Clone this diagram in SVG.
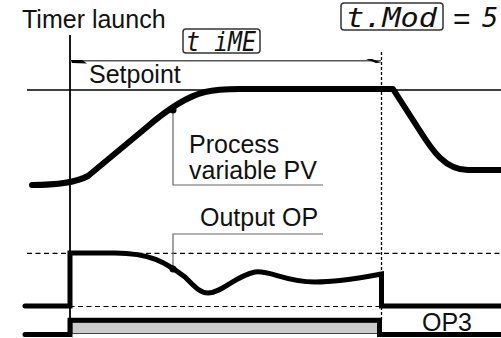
<svg xmlns="http://www.w3.org/2000/svg" width="501" height="338" viewBox="0 0 501 338">
<style>
.lbl{font-family:"Liberation Sans",Arial,sans-serif;font-size:25px;fill:#111}
.lcd{font-family:"DejaVu Sans Mono",monospace;font-style:oblique;fill:#111}
.thin{fill:none;stroke:#000;stroke-width:1.3}
.lead{fill:none;stroke:#666;stroke-width:1.2}
.dash{fill:none;stroke:#000;stroke-width:1.2;stroke-dasharray:5 3.5}
.vdash{fill:none;stroke:#000;stroke-width:1.3;stroke-dasharray:3 2}
.thick{fill:none;stroke:#000;stroke-width:5;stroke-linejoin:miter}
.pv{fill:none;stroke:#000;stroke-width:6;stroke-linecap:round;stroke-linejoin:round}
.box{fill:#fff;stroke:#333;stroke-width:1.5}
</style>
<g id="connectors">
  <path class="thin" d="M27,90 H501"/>
  <path class="dash" d="M27,253.3 H501"/>
  <path class="dash" d="M27,306.5 H501"/>
  <path class="vdash" d="M381.5,52 V320"/>
  <path d="M70,35 V320" fill="none" stroke="#000" stroke-width="1.8"/>
  <path d="M70,60.7 H381" fill="none" stroke="#555" stroke-width="1.4"/>
  <polygon points="71,60 82,60 87,63.5 72,63" fill="#000"/>
  <polygon points="366,59 372,59 381,62.5 376,63" fill="#000"/>
  <path class="lead" d="M173,112 V185 H323"/>
  <path class="lead" d="M173,269 V234 H323"/>
</g>
<g id="pv-curve">
  <path class="pv" d="M32,185 C55,185 75,183 88,176 L147,127 C162,114 185,97 205,92 C215,89.5 225,89 240,89 L393,89 L420,131 C432,150 445,170 468,170 L501,170"/>
  <circle cx="173" cy="110" r="3.5" fill="#000"/>
</g>
<g id="output-curve">
  <path class="thick" stroke-linecap="round" d="M25,306 H70 V253 H115 C150,253 165,262 185,277 C195,287 200,293 208,293 C222,293 235,276 255,272 C270,270 285,282 315,282 C340,282 365,277 381.5,274 V306 H503"/>
  <circle cx="173" cy="269" r="3.5" fill="#000"/>
</g>
<g id="op3-signal">
  <rect x="72" y="322" width="306" height="11.5" fill="#ccc" stroke="#444" stroke-width="1"/>
  <path class="thick" stroke-width="4.6" stroke-linecap="round" d="M25,334.5 H70 V320.3 H379.5 V334.5 H503"/>
</g>
<g id="timer-launch-label">
  <text class="lbl" x="22" y="28">Timer launch</text>
</g>
<g id="time-display">
  <rect class="box" x="183" y="29" width="77" height="24" rx="3"/>
  <text class="lcd" x="186" y="51" font-size="26" textLength="70" lengthAdjust="spacingAndGlyphs">t iME</text>
</g>
<g id="tmod-display">
  <rect class="box" x="341" y="3" width="102" height="27" rx="3"/>
  <text class="lcd" x="346" y="27" font-size="27" textLength="91" lengthAdjust="spacingAndGlyphs">t.Mod</text>
  <text x="453" y="29" font-family="Liberation Sans, Arial, sans-serif" font-size="30" fill="#111">=</text>
  <text class="lcd" x="482" y="27" font-size="27">5</text>
</g>
<g id="setpoint-label">
  <text class="lbl" x="89" y="83">Setpoint</text>
</g>
<g id="pv-label">
  <text class="lbl" x="189" y="153">Process</text>
  <text class="lbl" x="189" y="179">variable PV</text>
</g>
<g id="op-label">
  <text class="lbl" x="200" y="226">Output OP</text>
</g>
<g id="op3-label">
  <text class="lbl" x="422" y="331">OP3</text>
</g>
</svg>
